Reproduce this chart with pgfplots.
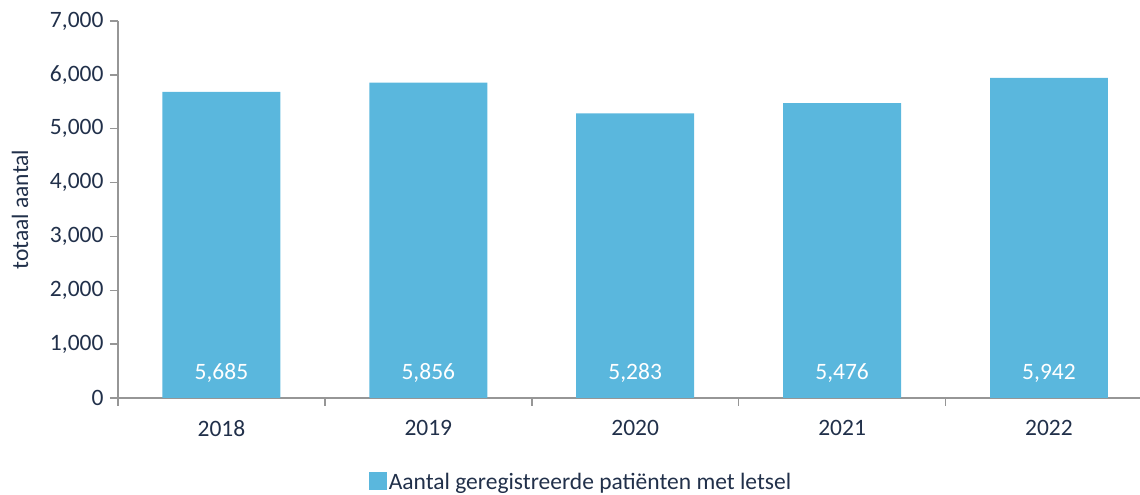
\documentclass[border=0pt]{standalone}
\usepackage{pgfplots}
\pgfplotsset{compat=1.18}
\usepackage{fontspec}
\setmainfont{Carlito}
\definecolor{barblue}{RGB}{90,183,221}
\definecolor{txt}{RGB}{33,48,74}
\definecolor{axgray}{RGB}{150,150,150}
\begin{document}
\begin{tikzpicture}[font=\fontsize{23.5bp}{27bp}\selectfont]
\begin{axis}[
  name=ax,
  scale only axis,
  width=1022bp, height=377bp,
  xmin=-0.5, xmax=4.44,
  ymin=0, ymax=7000,
  axis x line=bottom, axis y line=left,
  axis line style={-, draw=axgray, line width=1.5bp},
  tick align=outside,
  major tick length=8bp, minor tick length=8bp,
  every tick/.style={draw=axgray, line width=1.5bp},
  ytick={0,1000,...,7000},
  scaled y ticks=false,
  /pgf/number format/assume math mode=true,
  yticklabel style={/pgf/number format/1000 sep={,}, xshift=-3bp},
  xticklabel style={yshift=-11bp},
  tick label style={text=txt},
  xtick={0,1,2,3,4},
  xticklabels={2018,2019,2020,2021,2022},
  minor xtick={-0.5,0.5,1.5,2.5,3.5},
  every major x tick/.style={draw=none},
  ylabel={totaal aantal},
  every axis y label/.style={at={(rel axis cs:0,0.5)}, xshift=-98bp, rotate=90, anchor=center, text=txt},
  legend style={at={(0.453,-0.223)}, anchor=center, draw=none, fill=none, text=txt, font=\fontsize{23.5bp}{27bp}\selectfont},
  legend image code/.code={\fill[barblue] (0bp,-8bp) rectangle (18bp,10bp);},
]
\addplot[ybar, bar width=0.57, fill=barblue, draw=none] coordinates {(0,5685) (1,5856) (2,5283) (3,5476) (4,5942)};
\addlegendentry{Aantal geregistreerde patiënten met letsel}
\addplot[draw=none, mark=none, forget plot, nodes near coords, point meta=explicit,
  every node near coord/.append style={anchor=center, text=white, /pgf/number format/1000 sep={,}, /pgf/number format/assume math mode=true}]
  coordinates {(0,464)[5685] (1,464)[5856] (2,464)[5283] (3,464)[5476] (4,464)[5942]};
\end{axis}
\pgfresetboundingbox
\path[use as bounding box] ([xshift=-118bp,yshift=-97bp]ax.south west) rectangle ([yshift=21bp]ax.north east);
\end{tikzpicture}
\end{document}
